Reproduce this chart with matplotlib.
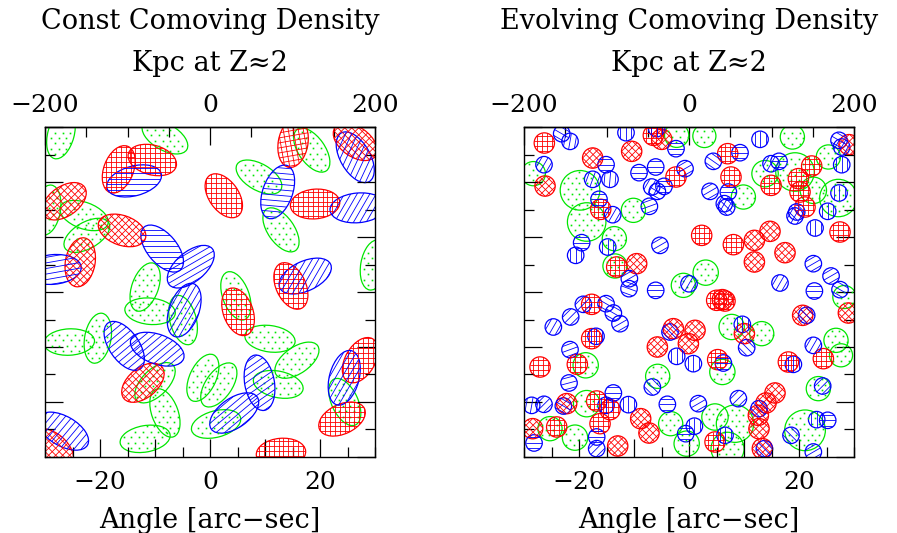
import numpy as np
import matplotlib
matplotlib.use("Agg")
import matplotlib.pyplot as plt
from matplotlib.patches import Ellipse
from matplotlib.collections import LineCollection
from matplotlib.ticker import MultipleLocator, FixedLocator, FuncFormatter

RED = "#ff0000"
BLUE = "#0000ff"
GREEN = "#00e600"

# ---- left panel: constant comoving density (elongated blobs) ----
# x, y [arcsec], position angle [deg], hatch angle [deg]
red_x = [-16.6, -10.5, -26.5, -16.0, -23.6, 15.1, 26.4, 2.5, 19.1, 14.7, 5.1, 12.9, 27.3, 24.0, -12.2, -28.7]
red_y = [22.3, 24.0, 16.5, 11.2, 5.4, 27.1, 27.3, 17.5, 16.0, 1.1, -3.6, -29.3, -12.4, -23.1, -16.5, -28.4]
red_pa = [69, -15, 35, -20, 80, 80, -35, -55, 5, -65, -70, 5, 60, 25, 40, -40]
red_hatch = [0, 0, 45, 45, 45, 10, 45, 0, 0, 0, 0, 0, 0, 0, 45, 45]

blue_x = [-13.8, -28.5, -8.7, -3.5, -4.7, 26.4, 12.3, 26.9, 17.3, 9.0, 4.4, 24.4, -15.6, -9.6, -26.7]
blue_y = [20.2, 4.1, 7.9, 4.6, -3.3, 24.5, 18.2, 15.3, 2.9, -16.5, -22.0, -15.6, -9.8, -10.4, -25.3]
blue_pa = [15, 5, -50, 40, 70, -60, 70, 5, 25, -80, 35, 75, -55, -20, -30]
blue_hatch = [0, 10, 0, 30, 60, 65, -5, 60, 60, 35, 40, 60, 40, 40, 50]

green_x = [-27.1, -29.6, -22.9, -22.4, -11.8, -8.2, 18.5, 8.9, 12.9, 29.8, 4.7, 10.9, 15.8,
           12.4, -1.3, 1.6, 1.1, 24.5, -10.9, -4.9, -25.6, -20.4, -10.0, -8.2, -11.8]
green_y = [28.7, 14.9, 13.9, 10.3, 0.9, 28.2, 25.8, 20.9, 11.3, 4.9, -0.7, -8.5, -12.4,
           -16.8, -15.6, -16.9, -24.0, -20.0, -3.5, -5.1, -9.1, -8.4, -16.5, -22.0, -26.7]
green_pa = [75, 80, -20, 30, 70, -30, -55, -30, -55, 80, -70, -8, 35,
            -12, 65, 55, 15, -65, -5, -75, 3, 80, 45, -70, 10]

# ---- right panel: evolving comoving density (round blobs) ----
red2_x = [-26.31, -26.18, -17.52, -16.06, -13.15, -9.52, -6.49, -4.97, -2.37, -10.43, 7.03, 29.09,
          7.63, 22.30, 14.91, 19.88, 20.18, 21.09, 27.45, 2.30, 8.06, 11.88, 14.72, 17.45, 11.88,
          -17.70, -17.70, -20.31, -27.09, -22.25, -16.79, -14.37, -8.79, -7.28, -16.18, -12.97,
          -24.06, -28.43, -2.85, -5.76, 5.03, 6.06, 6.54, 20.66, 28.97, 1.09, -0.12, 10.06,
          24.42, 18.06, 5.21, 15.63, 14.00, 12.60, 12.72, 4.73, 13.33]
red2_y = [27.09, 19.27, 24.36, 15.03, 4.55, 5.15, 28.49, 27.76, 20.91, 25.58, 25.15, 26.79,
          20.91, 22.91, 19.39, 20.61, 18.18, 15.45, 10.91, 10.30, 8.61, 9.39, 11.03, 7.15, 5.46,
          -2.24, -8.48, -13.15, -13.64, -20.30, -19.82, -21.39, -23.03, -25.64, -23.94, -28.00,
          -24.54, -24.85, -6.67, -10.00, -1.51, -1.39, -1.64, -4.24, -3.82, -6.97, -9.39, -7.57,
          -12.12, -12.73, -12.30, -18.36, -20.18, -22.42, -24.85, -27.27, -28.48]
red2_hatch = [0, 45, 45, 0, 0, 45, 0, 45, 0, 45, 0, 45,
              0, 0, 0, 0, 0, 0, 0, 0, 0, 45, 45, 45, 45,
              0, 0, 0, 0, 45, 0, 0, 45, 45, 0, 45,
              0, 45, 45, 45, 0, 45, 0, 45, 45, 45, 45, 45,
              0, 0, 0, 45, 45, 45, 45, 0, 45]

blue2_x = [-23.15, -21.64, -26.37, -15.09, -17.52, -14.37, -16.37, -13.88, -7.21, -19.52, -20.61,
           -14.79, -5.28, -10.85, -10.91, -6.06, 0.0, -11.46, -5.88, -2.37, -0.73, -9.09, -6.06,
           -6.79, -5.76, -4.55, 12.91, 27.27, 27.75, 9.27, 4.42, 14.91, 16.36, 27.76, 27.27, 3.82,
           7.15, 6.42, 6.85, 19.58, 19.27, 25.21, 22.91, 22.60, 25.82, 16.54, -19.21, -15.09,
           -13.76, -12.55, -21.52, -24.67, -16.91, -21.64, -21.82, -28.61, -26.37, -22.85, -15.09,
           -13.76, -11.03, -16.79, -16.79, -28.18, -3.46, -2.25, -6.67, -3.94, -0.60, 22.79, 27.45,
           21.39, 9.69, 10.48, 22.60, 18.97, 6.24, 0.79, 24.30, 1.69, 8.97, 12.72, 0.97, 6.54,
           13.70, 18.54, 23.21, 25.21, 22.60]
blue2_y = [28.79, 27.39, 23.15, 23.15, 20.49, 20.49, 16.85, 14.06, 15.58, 8.97, 6.67,
           8.18, 8.48, 2.43, 0.61, 0.30, 1.5, 28.97, 29.70, 26.06, 22.43, 21.70, 22.73,
           19.09, 18.30, 19.21, 27.76, 27.58, 26.36, 25.33, 23.76, 23.33, 23.76, 23.15, 18.00, 18.30,
           18.18, 16.06, 15.45, 14.55, 13.82, 14.67, 11.64, 5.15, 2.91, 1.64, -2.24, -2.12,
           -3.82, -5.76, -4.54, -6.36, -8.06, -10.48, -16.54, -20.61, -20.42, -20.73, -20.60,
           -18.36, -20.48, -26.36, -28.48, -27.45, -7.27, -11.70, -17.27, -20.42, -25.76, 0.18, 0.43,
           -4.24, -5.88, -10.12, -9.70, -13.15, -12.91, -13.03, -17.09, -20.30, -19.39, -21.21, -24.40, -26.06,
           -28.50, -26.06, -23.21, -23.33, -29.09]
blue2_hatch = [-30, 80, 60, 0, 70, 85, 0, 60, 20, 0, 90,
               90, 30, 30, -20, 0, 60, 90, 90, 0, 30, 0, 0,
               60, -30, 0, 90, -30, 60, 0, -35, 60, 0, 90, 90, 30,
               0, 60, -45, -45, 60, 90, 90, 30, 30, 60, 45, -30,
               -30, 30, 45, 60, 90, 20, 15, 80, 45, -30, 90,
               0, 90, 0, 45, 0, -45, 90, -45, 0, 0, 0, -30,
               -45, 90, -45, 60, 90, 0, 90, 45, 30, 45, -45, 90, 90,
               -45, -45, 90, 0, 30]

green2_x = [-28.31, -19.82, -18.61, -10.12, -13.58, -13.46, -1.03, -2.25, 2.79, 18.79, 13.82, 19.27,
            25.33, 22.60, 27.15, 9.88, 3.03, -18.79, -18.61, -20.73, -25.28, -5.70, -3.34, -0.43,
            28.24, 7.75, 13.21, 26.72, 27.63, 6.06, 23.51, 4.72, 8.36, 7.0, 21.09]
green2_y = [21.52, 18.49, 12.73, 14.85, 9.70, 4.73, 1.21, 28.49, 28.36, 28.18, 21.52, 21.82,
            24.55, 18.49, 17.09, 17.27, 3.52, -13.33, -20.30, -26.48, -24.85, -15.33, -23.94, -27.57,
            -0.91, -6.36, -7.57, -8.79, -11.51, -14.54, -17.57, -22.73, -23.94, -28.5, -25.15]
green2_r = [2.2, 3.6, 3.5, 2.2, 2.2, 2.2, 2.2, 2.2, 2.1, 2.2, 2.4, 3.5,
            2.2, 2.4, 3.4, 2.2, 2.3, 2.3, 2.4, 2.3, 2.2, 2.2, 2.2, 2.3,
            2.1, 2.3, 2.2, 2.2, 2.1, 2.3, 2.2, 2.4, 3.4, 3.0, 3.7]


def draw_blob(ax, x, y, a, b, angle, color, style, hatch_angle=0.0):
    patch = Ellipse((x, y), 2 * a, 2 * b, angle=angle, fill=False, edgecolor=color, lw=0.9)
    ax.add_patch(patch)
    r = max(a, b)
    if style == "dots":
        # stippled fill: keep only lattice points inside the ellipse and the frame
        step = 1.4
        th = np.radians(angle)
        px, py = [], []
        for i, yy in enumerate(np.arange(-r, r + 1e-9, step * 0.7)):
            shift = step / 2 if i % 2 else 0.0
            for xx in np.arange(-r, r + 1e-9, step) + shift:
                u = xx * np.cos(th) + yy * np.sin(th)
                v = -xx * np.sin(th) + yy * np.cos(th)
                gx, gy = x + xx, y + yy
                if (u / a) ** 2 + (v / b) ** 2 < 0.85 and abs(gx) < 29.7 and abs(gy) < 29.7:
                    px.append(gx)
                    py.append(gy)
        ax.plot(px, py, ls="none", marker="s", ms=1.2, mew=0, color=color)
        return
    step = 0.9 if style == "cross" else 1.0
    angles = [hatch_angle] if style == "lines" else [hatch_angle, hatch_angle + 90]
    for t in np.radians(angles):
        d = np.array([np.cos(t), np.sin(t)])
        n = np.array([-np.sin(t), np.cos(t)])
        segs = []
        for off in np.arange(-r + step / 2, r, step):
            c = np.array([x, y]) + off * n
            segs.append([c - r * d, c + r * d])
        lc = LineCollection(segs, colors=color, linewidths=0.6)
        ax.add_collection(lc, autolim=False)
        lc.set_clip_path(patch)


def minus(v):
    return f"{v:.0f}".replace("-", "\u2212")


def style_axes(ax):
    ax.set_xlim(-30, 30)
    ax.set_ylim(-30, 30)
    for s in ax.spines.values():
        s.set_linewidth(1.0)
    ax.xaxis.set_major_locator(FixedLocator([-20, -10, 0, 10, 20]))
    ax.xaxis.set_minor_locator(MultipleLocator(5))
    ax.xaxis.set_major_formatter(FuncFormatter(lambda v, p: minus(v) if v % 20 == 0 else ""))
    ax.yaxis.set_major_locator(MultipleLocator(10))
    ax.yaxis.set_minor_locator(MultipleLocator(5))
    ax.yaxis.set_major_formatter(FuncFormatter(lambda v, p: ""))
    ax.tick_params(which="both", direction="in", left=True, right=True, bottom=True, top=False,
                   width=0.9, labelsize=18, pad=10)
    ax.tick_params(which="major", length=13)
    ax.tick_params(which="minor", length=7)

    sec = ax.secondary_xaxis("top", functions=(lambda a: a * 200 / 30, lambda k: k * 30 / 200))
    sec.xaxis.set_major_locator(FixedLocator([-200, 0, 200]))
    sec.xaxis.set_minor_locator(MultipleLocator(50))
    sec.xaxis.set_major_formatter(FuncFormatter(lambda v, p: minus(v)))
    sec.tick_params(which="both", direction="in", width=0.9, labelsize=18, pad=7)
    sec.tick_params(which="major", length=13)
    sec.tick_params(which="minor", length=7)
    sec.spines["top"].set_linewidth(1.0)

    ax.text(0.5, -0.215, "Angle [arc\u2212sec]", transform=ax.transAxes, ha="center",
            va="baseline", fontsize=19.5)
    ax.text(0.5, 1.170, "Kpc at Z\u22482", transform=ax.transAxes, ha="center",
            va="baseline", fontsize=19.5)


def main():
    plt.rcParams["font.family"] = ["DejaVu Serif"]
    fig = plt.figure(figsize=(8.97, 5.33), dpi=100)
    ax1 = fig.add_axes([0.0502, 0.1426, 0.3679, 0.6191])
    ax2 = fig.add_axes([0.5842, 0.1426, 0.3679, 0.6191])

    for i in range(len(green_x)):
        draw_blob(ax1, green_x[i], green_y[i], 4.6, 2.4, green_pa[i], GREEN, "dots")
    for i in range(len(red_x)):
        draw_blob(ax1, red_x[i], red_y[i], 4.5, 2.7, red_pa[i], RED, "cross", red_hatch[i])
    for i in range(len(blue_x)):
        draw_blob(ax1, blue_x[i], blue_y[i], 5.1, 2.7, blue_pa[i], BLUE, "lines", blue_hatch[i])

    for i in range(len(green2_x)):
        draw_blob(ax2, green2_x[i], green2_y[i], green2_r[i], green2_r[i], 0, GREEN, "dots")
    for i in range(len(red2_x)):
        draw_blob(ax2, red2_x[i], red2_y[i], 1.85, 1.85, 0, RED, "cross", red2_hatch[i])
    for i in range(len(blue2_x)):
        draw_blob(ax2, blue2_x[i], blue2_y[i], 1.5, 1.5, 0, BLUE, "lines", blue2_hatch[i])

    for ax, title in [(ax1, "Const Comoving Density"), (ax2, "Evolving Comoving Density")]:
        style_axes(ax)
        ax.text(0.5, 1.296, title, transform=ax.transAxes, ha="center", va="baseline",
                fontsize=19.5)

    fig.savefig("out.png", dpi=100)


if __name__ == "__main__":
    main()
